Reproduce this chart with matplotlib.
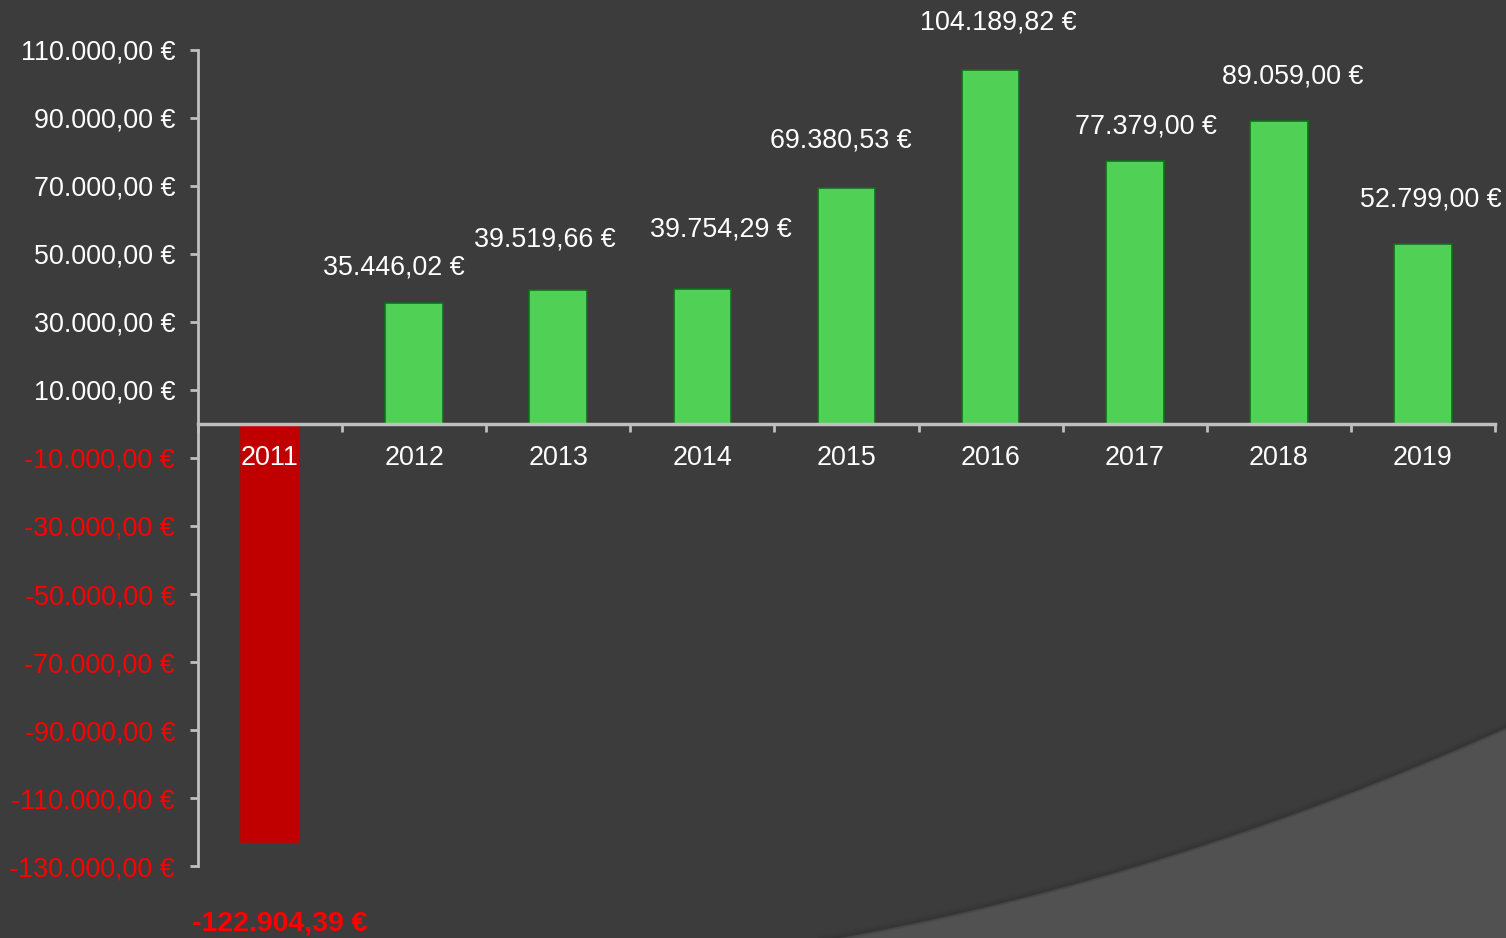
import numpy as np
import matplotlib
matplotlib.use("Agg")
import matplotlib.pyplot as plt
from matplotlib.patches import Polygon
from matplotlib.ticker import FixedLocator, FuncFormatter

years = ["2011", "2012", "2013", "2014", "2015", "2016", "2017", "2018", "2019"]
values = [-122904.39, 35446.02, 39519.66, 39754.29, 69380.53, 104189.82, 77379.00, 89059.00, 52799.00]
y_ticks = [110000, 90000, 70000, 50000, 30000, 10000, -10000, -30000, -50000, -70000, -90000, -110000, -130000]

# label offsets in pixels (styling)
label_offsets = [(10, -82), (-20, 36), (-13, 50), (18, 59), (-6, 48), (8, 47), (11, 34), (14, 45), (8, 45)]

BG = "#3c3c3c"
BG2 = "#515151"
AXC = "#bfbfbf"
GREEN = "#50d055"
GREEN_EDGE = "#0e6e1e"
RED_BAR = "#c00000"
RED_TXT = "#ff0000"

plt.rcParams["font.family"] = ["Liberation Sans", "DejaVu Sans"]

W, H = 1506, 938
fig = plt.figure(figsize=(W / 100, H / 100), dpi=100, facecolor=BG)

# decorative lighter curved region bottom-right
px = np.array([840, 1100, 1506])
py = np.array([938, 877, 728])
coef = np.polyfit(px, py, 2)
xs = np.linspace(820, 1506, 200)
ys = np.polyval(coef, xs)
pts = [(x / W, 1 - y / H) for x, y in zip(xs, ys)]
pts += [(1.0, 0.0), (820 / W, 0.0)]
fig.patches.append(Polygon(pts, closed=True, transform=fig.transFigure, facecolor=BG2, edgecolor="none", zorder=0))
for i, a in enumerate([0.25, 0.15, 0.08, 0.04]):
    fig.lines.append(plt.Line2D(xs / W, 1 - (ys - 1.5 * i) / H, transform=fig.transFigure,
                                color="#2e2e2e", alpha=a, lw=3, zorder=0.5))

ax = fig.add_axes([198 / W, 1 - 866 / H, (1495 - 198) / W, (866 - 50) / H])
ax.set_facecolor("none")

x = np.arange(len(years))
colors = [RED_BAR if v < 0 else GREEN for v in values]
edges = [RED_BAR if v < 0 else GREEN_EDGE for v in values]
ax.bar(x, values, width=0.4, color=colors, edgecolor=edges, linewidth=1.2, zorder=1)

ax.set_xlim(-0.5, len(years) - 0.5)
ax.set_ylim(-130000, 110000)


def eur(v, pos=None):
    s = f"{v:,.2f}".replace(",", "X").replace(".", ",").replace("X", ".")
    return s + " €"


FS = 19.4
ax.yaxis.set_major_locator(FixedLocator(y_ticks))
ax.yaxis.set_major_formatter(FuncFormatter(eur))
ax.tick_params(axis="y", colors=AXC, length=6, width=2, pad=10.5, labelsize=FS)
for lab, v in zip(ax.get_yticklabels(), y_ticks):
    lab.set_color(RED_TXT if v < 0 else "white")

ax.set_xticks(x)
ax.set_xticklabels(years)
ax.set_xticks(np.arange(-0.5, len(years)), minor=True)
ax.tick_params(axis="x", which="major", length=0, pad=15, labelsize=FS, labelcolor="white")
ax.tick_params(axis="x", which="minor", length=6, width=2, color=AXC, direction="out")

for s in ["top", "right"]:
    ax.spines[s].set_visible(False)
ax.spines["left"].set_color(AXC)
ax.spines["left"].set_linewidth(2)
ax.spines["bottom"].set_position(("data", 0))
ax.spines["bottom"].set_color(AXC)
ax.spines["bottom"].set_linewidth(2.5)

for xi, v, (dx, dy) in zip(x, values, label_offsets):
    if v < 0:
        ax.annotate(eur(v), xy=(xi, v), xytext=(dx, dy), textcoords="offset pixels",
                    ha="center", va="center", color=RED_TXT, fontsize=20.5, fontweight="bold",
                    annotation_clip=False)
    else:
        ax.annotate(eur(v), xy=(xi, v), xytext=(dx, dy), textcoords="offset pixels",
                    ha="center", va="center", color="white", fontsize=FS, annotation_clip=False)

fig.savefig("out.png", dpi=100, facecolor=BG)
